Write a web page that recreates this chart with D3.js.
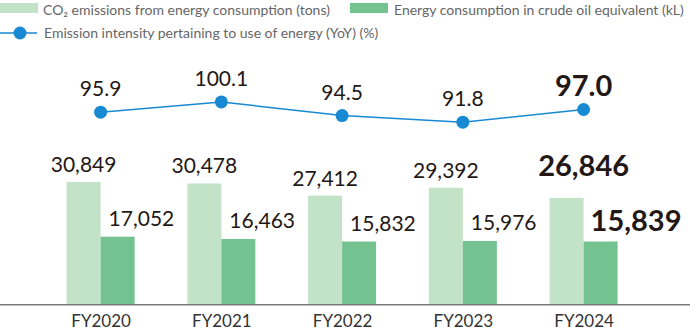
<!DOCTYPE html>
<html>
<head>
<meta charset="utf-8">
<script src="https://cdn.jsdelivr.net/npm/d3@7"></script>
<style>
  body { margin: 0; background: #fff; }
  text { font-family: "Lato", sans-serif; }
</style>
</head>
<body>
<div id="chart"></div>
<script>
// data
const years = ["FY2020", "FY2021", "FY2022", "FY2023", "FY2024"];
const co2 = [30849, 30478, 27412, 29392, 26846];
const energy = [17052, 16463, 15832, 15976, 15839];
const intensity = [95.9, 100.1, 94.5, 91.8, 97.0];
const legendLabels = [
    "CO\u2082 emissions from energy consumption (tons)",
    "Energy consumption in crude oil equivalent (kL)",
    "Emission intensity pertaining to use of energy (YoY) (%)"
];

const width = 690, height = 330;
const baseY = 304.3;
const barW = 34;
const lightGreen = "#c3e3c8", darkGreen = "#74c28f", blue = "#1889d3";
const ink = "#231815";
const last = years.length - 1;
const fmt = d3.format(",");

const svg = d3.select("#chart")
    .append("svg")
    .attr("width", width)
    .attr("height", height);

// group centres
const xScale = d3.scalePoint()
    .domain(years)
    .range([100.6, 583.6]);

// bars
const yScale = d3.scaleLinear()
    .domain([0, 60000])
    .range([baseY, baseY - 237.9]);

// line
const yLine = d3.scaleLinear()
    .domain([90, 102])
    .range([126.6, 97.3]);

svg.selectAll(".co2")
    .data(co2)
    .enter()
    .append("rect")
    .attr("x", (d, i) => xScale(years[i]) - barW)
    .attr("y", d => yScale(d))
    .attr("width", barW)
    .attr("height", d => baseY - yScale(d))
    .attr("fill", lightGreen);

svg.selectAll(".energy")
    .data(energy)
    .enter()
    .append("rect")
    .attr("x", (d, i) => xScale(years[i]))
    .attr("y", d => yScale(d))
    .attr("width", barW)
    .attr("height", d => baseY - yScale(d))
    .attr("fill", darkGreen);

// baseline + year labels
svg.append("g")
    .attr("transform", `translate(0,${baseY})`)
    .call(d3.axisBottom(xScale).tickSize(0).tickPadding(0))
    .call(g => g.select(".domain").remove())
    .call(g => g.selectAll("text")
        .attr("dy", null)
        .attr("y", 22.5)
        .attr("font-family", "'Liberation Sans', Arial, sans-serif")
        .attr("font-size", "17px")
        .attr("fill", "#333"));

svg.append("line")
    .attr("x1", 0).attr("x2", width)
    .attr("y1", baseY + 0.5).attr("y2", baseY + 0.5)
    .attr("stroke", "#7a7a7a")
    .attr("stroke-width", 1.6);

// bar value labels
svg.selectAll(".co2-label")
    .data(co2)
    .enter()
    .append("text")
    .attr("x", (d, i) => i === last ? xScale(years[i]) : xScale(years[i]) - barW / 2)
    .attr("y", (d, i) => yScale(d) - (i === last ? 21.5 : 10))
    .attr("text-anchor", "middle")
    .attr("font-size", (d, i) => i === last ? "29px" : "21px")
    .attr("font-weight", (d, i) => i === last ? 700 : 400)
    .attr("fill", ink)
    .text(d => fmt(d));

svg.selectAll(".energy-label")
    .data(energy)
    .enter()
    .append("text")
    .attr("x", (d, i) => xScale(years[i]) + (i === last ? 7 : 8))
    .attr("y", (d, i) => yScale(d) - (i === last ? 10 : 11))
    .attr("text-anchor", "start")
    .attr("font-size", (d, i) => i === last ? "29px" : "21px")
    .attr("font-weight", (d, i) => i === last ? 700 : 400)
    .attr("fill", ink)
    .text(d => fmt(d));

// intensity line
const line = d3.line()
    .x((d, i) => xScale(years[i]))
    .y(d => yLine(d));

svg.append("path")
    .datum(intensity)
    .attr("d", line)
    .attr("fill", "none")
    .attr("stroke", blue)
    .attr("stroke-width", 1.5);

svg.selectAll(".dot")
    .data(intensity)
    .enter()
    .append("circle")
    .attr("cx", (d, i) => xScale(years[i]))
    .attr("cy", d => yLine(d))
    .attr("r", 6.5)
    .attr("fill", blue);

svg.selectAll(".dot-label")
    .data(intensity)
    .enter()
    .append("text")
    .attr("x", (d, i) => xScale(years[i]))
    .attr("y", (d, i) => yLine(d) - (i === last ? 14 : 16))
    .attr("text-anchor", "middle")
    .attr("font-size", (d, i) => i === last ? "29px" : "21px")
    .attr("font-weight", (d, i) => i === last ? 700 : 400)
    .attr("fill", ink)
    .text(d => d.toFixed(1));

// legend
const legend = svg.append("g")
    .attr("font-family", "'Liberation Sans', Arial, sans-serif")
    .attr("font-size", "14px")
    .attr("fill", "#666");

legend.append("rect").attr("x", 0).attr("y", 3).attr("width", 38).attr("height", 10).attr("fill", lightGreen);
legend.append("text").attr("x", 43).attr("y", 14.5).attr("fill", "#666").text(legendLabels[0]);

legend.append("rect").attr("x", 350).attr("y", 3).attr("width", 38).attr("height", 10).attr("fill", darkGreen);
legend.append("text").attr("x", 394).attr("y", 14.5).attr("fill", "#666").text(legendLabels[1]);

legend.append("line").attr("x1", 0).attr("x2", 37).attr("y1", 33).attr("y2", 33)
    .attr("stroke", blue).attr("stroke-width", 1.5);
legend.append("circle").attr("cx", 20).attr("cy", 33).attr("r", 6.5).attr("fill", blue);
legend.append("text").attr("x", 44).attr("y", 38).attr("fill", "#666").text(legendLabels[2]);
</script>
</body>
</html>
